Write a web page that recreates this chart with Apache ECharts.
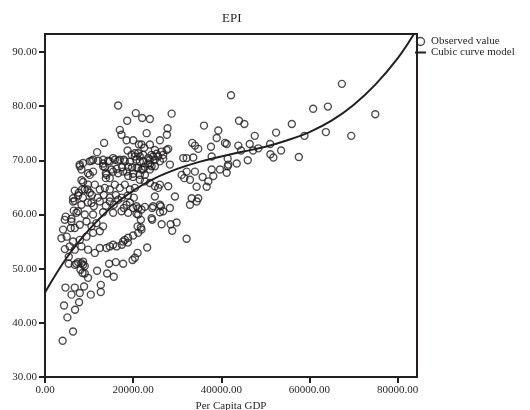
<!DOCTYPE html>
<html>
<head>
<meta charset="utf-8">
<script src="https://cdn.jsdelivr.net/npm/echarts@6/dist/echarts.min.js"></script>
<style>
  html, body { margin: 0; padding: 0; background: #fff; }
  #chart { width: 530px; height: 410px; }
</style>
</head>
<body>
<div id="chart"></div>
<script>
// Per capita GDP of each observed country/region
const gdp = [
  67360,42200,60840,64180,74930,44020,45230,56000,52430,47590,58860,63730,69480,41230,43860,46450,44480,47200,48410,51070,
  51140,51820,53570,57590,41450,43500,46000,41450,41220,
  16590,20600,18640,16980,17360,18500,20000,13410,18730,20390,11820,10540,12050,13180,14320,15450,16590,17890,19250,7890,
  8270,10910,13570,13800,15090,16230,17500,18500,19770,20000,13800,8270,9770,8410,9640,6750,6360,7500,
  22050,23800,28730,27820,23050,27660,26070,23800,22500,21300,27950,26450,25320,24550,23800,23410,22660,21900,24180,22270,
  21520,20770,20770,21520,22660,23800,26820,28340,31360,32130,33640,33410,34020,34770,36070,39320,38950,40840,37660,37810,
  32130,31590,32890,34020,31000,35770,36680,37050,38180,37810,39700,41590,34400,33270,34770,32890,29480,27950,25680,24930,
  26070,24550,28340,26820,22660,24320,21900,21140,
  20770,26300,26070,20770,21750,21000,21750,24320,26450,28500,29860,28860,32130,23180,21000,20390,
  34410,6360,8270,10540,12430,14700,16590,18500,20000,7140,7500,9020,10910,13180,15450,17360,18860,21140,24180,
  6000,6750,7890,9410,10540,11680,13180,12430,10910,9410,7890,6360,5610,6750,8270,9770,11300,12430,13950,14700,
  16230,17730,18860,20000,21140,21900,15450,18110,17430,18800,
  21900,24930,26820,27590,22270,23410,24180,24930,25680,26070,21140,19640,20390,21520,23800,24930,22270,21140,18860,18110,
  16980,15840,14700,13180,10910,10160,8640,7890,9770,13180,13950,14700,15450,16590,17730,18860,20000,21520,22660,23800,
  24930,26070,11300,12430,13570,14700,15840,16980,18110,19250,20390,10620,11980,13340,14700,16070,17430,18800,20160,9700,
  11070,13800,15610,17890,19250,
  10160,8640,7660,6750,6520,6000,5840,4700,4930,5390,9020,8590,10160,4480,4090,3720,4500,
  4000,6360,5080,4320,6820,7730,4640,6000,6750,7890,8860,10390,12660,12660,9770,9020,11820,14090,15610,14550,
  16070,17730,19860,5390,7140,8270,8640,9020,8050,8500,7500,8640,6750
];

// Environmental Performance Index, same order as gdp
const epi = [
  84.1,82.0,79.5,79.9,78.5,77.3,76.7,76.7,75.1,74.5,74.5,75.2,74.5,73.0,72.7,73.0,71.8,71.8,72.2,73.0,
  71.1,70.5,71.8,70.6,70.3,69.4,70.0,68.9,67.7,
  80.1,78.7,77.3,75.6,74.7,73.7,73.7,73.2,71.8,71.3,71.5,69.9,69.9,69.4,69.9,70.4,69.9,70.1,69.7,69.2,
  68.3,67.9,68.7,67.6,68.3,68.4,68.7,67.9,68.7,67.5,66.7,66.3,65.5,64.6,64.6,64.4,63.0,63.5,
  77.8,77.6,78.6,75.9,75.0,74.7,73.7,72.9,72.3,72.9,72.1,71.6,71.2,70.7,70.1,69.4,68.8,68.3,68.9,69.8,
  70.7,70.1,68.6,67.3,67.3,68.3,70.3,69.2,70.4,70.4,70.5,73.2,72.7,72.1,76.4,75.5,74.1,73.2,72.5,70.7,
  67.9,66.7,66.4,67.9,67.3,66.9,65.1,66.1,67.1,68.3,68.3,69.2,65.1,63.0,63.0,61.8,63.3,65.2,64.9,63.3,
  61.8,61.5,61.2,60.6,61.4,61.2,60.9,61.1,
  61.5,61.5,60.4,60.1,59.0,57.8,57.6,59.0,58.2,58.2,58.5,57.0,55.5,53.9,52.9,52.0,
  62.4,62.4,61.8,62.1,62.4,62.4,62.7,61.8,61.2,60.3,60.6,60.0,60.0,60.4,60.3,60.6,60.3,60.0,59.3,
  58.7,57.5,58.1,58.7,57.8,58.4,57.8,56.9,56.6,55.9,55.3,55.0,54.1,53.5,54.1,53.5,52.9,53.8,53.8,54.1,
  54.1,55.0,55.7,56.1,56.6,57.2,54.4,55.3,54.4,54.8,
  72.9,71.9,71.0,71.9,71.0,70.4,71.0,70.1,70.7,69.8,71.3,71.0,70.7,69.8,69.2,68.9,68.3,68.6,68.8,69.8,
  70.1,70.1,69.8,70.1,70.1,69.8,69.5,68.9,67.6,68.9,67.3,66.7,67.9,67.6,67.9,67.1,66.9,66.4,66.1,65.8,
  65.2,65.5,65.5,64.6,64.9,64.6,65.5,64.9,65.5,64.6,64.9,63.6,63.1,63.6,63.1,63.6,63.1,63.5,63.1,62.2,
  61.5,61.6,61.8,61.2,62.2,
  67.3,66.0,64.0,62.5,60.7,59.2,57.5,59.6,55.9,52.2,64.6,63.1,64.0,59.0,57.2,55.6,53.6,
  36.7,38.4,41.0,43.2,42.4,43.8,46.5,45.2,46.5,45.5,46.7,45.2,47.0,45.7,48.3,49.1,49.6,49.1,48.5,50.9,
  51.2,50.9,51.6,50.9,50.9,51.0,50.7,50.5,49.8,49.2,51.2,51.3,50.7
];

// Cubic model curve, read at regular GDP steps
const curveGdp = [0,5000,10000,15000,20000,25000,30000,35000,40000,45000,50000,55000,60000,65000,70000,75000,80000,83700];
const curveEpi = [45.6,52.1,57.2,61.3,64.4,66.7,68.4,69.7,70.7,71.6,72.5,73.7,75.2,77.3,80.2,84.0,88.8,93.3];

// Axis ticks
const xTicks = [0,20000,40000,60000,80000];
const yTicks = [30,40,50,60,70,80,90];

const INK = '#231f20';
const FONT = '"Liberation Serif", "Times New Roman", serif';

const points = gdp.map((g, i) => [g, epi[i]]);
const curve = curveGdp.map((g, i) => [g, curveEpi[i]]);

const chart = echarts.init(document.getElementById('chart'), null, { renderer: 'canvas' });

chart.setOption({
  animation: false,
  backgroundColor: '#fff',
  title: {
    text: 'EPI',
    left: 217,
    top: 7,
    textStyle: { fontFamily: FONT, fontSize: 13, fontWeight: 'normal', color: INK }
  },
  legend: {
    orient: 'vertical',
    left: 409,
    top: 31,
    itemWidth: 11,
    itemHeight: 8,
    itemGap: 0,
    textStyle: { fontFamily: FONT, fontSize: 11, color: INK, lineHeight: 11 },
    data: [
      { name: 'Observed value', icon: 'circle', itemStyle: { color: 'rgba(0,0,0,0)', borderColor: INK, borderWidth: 1.4 } },
      { name: 'Cubic curve model', itemStyle: { opacity: 0 } }
    ]
  },
  grid: {
    left: 45,
    right: 113,
    top: 34,
    bottom: 33,
    outerBoundsMode: 'none',
    show: true,
    borderColor: INK,
    borderWidth: 2
  },
  xAxis: {
    type: 'value',
    min: 0,
    max: 84400,
    interval: 20000,
    name: 'Per Capita GDP',
    nameLocation: 'middle',
    nameGap: 22,
    nameTextStyle: { fontFamily: FONT, fontSize: 11, color: INK },
    axisLine: { show: true, lineStyle: { color: INK, width: 2 } },
    axisTick: { show: true, length: 6, lineStyle: { color: INK, width: 2 }, customValues: xTicks },
    axisLabel: {
      fontFamily: FONT, fontSize: 11, color: INK, margin: 8,
      customValues: xTicks,
      formatter: v => v.toFixed(2)
    },
    splitLine: { show: false }
  },
  yAxis: {
    type: 'value',
    min: 30,
    max: 93.3,
    interval: 10,
    axisLine: { show: true, lineStyle: { color: INK, width: 2 } },
    axisTick: { show: true, length: 6, lineStyle: { color: INK, width: 2 }, customValues: yTicks },
    axisLabel: {
      fontFamily: FONT, fontSize: 11, color: INK, margin: 8,
      customValues: yTicks,
      formatter: v => v.toFixed(2)
    },
    splitLine: { show: false }
  },
  series: [
    {
      name: 'Observed value',
      type: 'scatter',
      symbol: 'circle',
      symbolSize: 7,
      itemStyle: { color: 'rgba(0,0,0,0)', borderColor: INK, borderWidth: 1.4 },
      data: points,
      z: 2
    },
    {
      name: 'Cubic curve model',
      type: 'line',
      smooth: 0.4,
      symbol: 'none',
      lineStyle: { color: INK, width: 2 },
      itemStyle: { color: INK },
      data: curve,
      z: 3
    }
  ]
});
</script>
</body>
</html>
